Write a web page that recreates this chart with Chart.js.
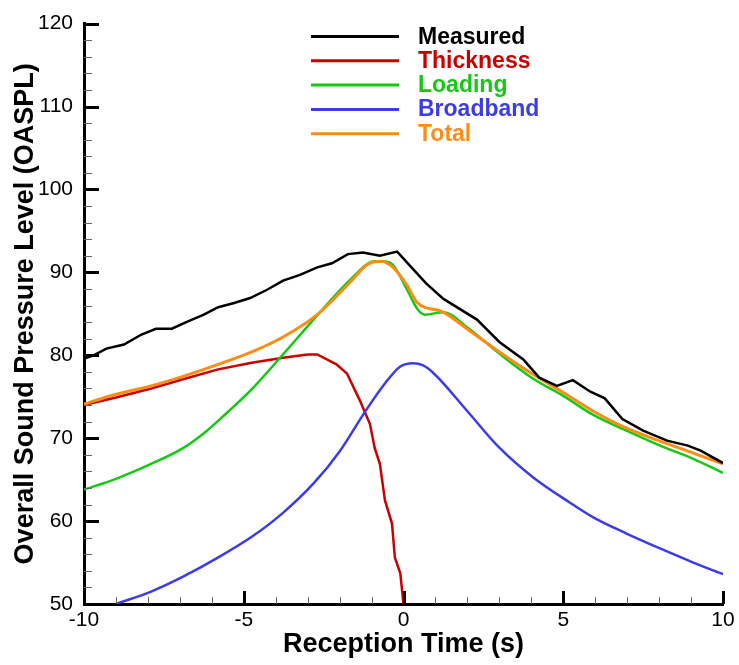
<!DOCTYPE html>
<html>
<head>
<meta charset="utf-8">
<script src="https://cdn.jsdelivr.net/npm/chart.js@4/dist/chart.umd.min.js"></script>
<style>
    html, body { margin: 0; padding: 0; background: #fff; }
    #wrap { width: 739px; height: 665px; }
</style>
</head>
<body>
<div id="wrap"><canvas id="grafico" width="739" height="665"></canvas></div>
<script>
/* ======================================================
   DADOS
   ====================================================== */
const tempoMedido = [-10, -9.7, -9.3, -8.75, -8.2, -7.75, -7.25, -6.8, -6.25, -5.8, -5.3, -4.8, -4.27, -3.77, -3.24, -2.7, -2.24, -1.74, -1.27, -0.74, -0.2, 0.7, 1.25, 2.3, 3.0, 3.75, 4.25, 4.8, 5.3, 5.85, 6.3, 6.85, 7.5, 8.25, 8.9, 9.3, 10];
const splMedido   = [79.6, 80.0, 80.8, 81.3, 82.5, 83.2, 83.2, 84.0, 84.9, 85.8, 86.3, 86.9, 87.9, 89.0, 89.7, 90.6, 91.1, 92.2, 92.4, 92.0, 92.5, 88.7, 86.8, 84.3, 81.6, 79.5, 77.3, 76.3, 77.0, 75.6, 74.8, 72.3, 70.9, 69.7, 69.1, 68.5, 67.0];

const tempoEspessura = [-10, -9, -7.9, -6.9, -5.8, -4.75, -3.77, -3.0, -2.7, -2.1, -1.77, -1.36, -1.05, -0.9, -0.74, -0.58, -0.36, -0.27, -0.1, 0.0];
const splEspessura   = [74.0, 74.9, 76.0, 77.1, 78.3, 79.1, 79.7, 80.1, 80.1, 78.9, 77.8, 74.5, 71.7, 68.8, 66.9, 62.5, 59.7, 55.6, 53.7, 50.0];

const tempoCarga = [-10, -9, -7.9, -6.9, -6.25, -5.6, -5.15, -4.7, -3.77, -2.7, -1.67, -0.9, -0.55, -0.33, 0.1, 0.45, 0.67, 1.24, 1.98, 3.0, 4.05, 5.0, 5.94, 6.98, 8.03, 9.07, 10];
const splCarga   = [63.8, 65.1, 66.9, 68.8, 70.6, 72.8, 74.4, 76.1, 80.1, 84.8, 89.1, 91.35, 91.3, 90.9, 88.0, 85.5, 84.9, 85.2, 83.4, 80.2, 77.2, 75.1, 72.8, 70.9, 69.1, 67.5, 65.8];

const tempoBanda = [-9.0, -7.9, -6.9, -5.85, -4.75, -3.8, -2.8, -2.0, -1.2, -0.6, -0.1, 0.3, 0.6, 0.95, 2.0, 3.0, 4.05, 5.2, 5.94, 6.98, 8.03, 9.07, 10];
const splBanda   = [50.0, 51.5, 53.3, 55.5, 58.1, 60.9, 64.6, 68.4, 73.2, 76.5, 78.65, 79.05, 78.8, 77.8, 73.25, 68.85, 65.3, 62.25, 60.45, 58.5, 56.7, 55.0, 53.6];

const tempoTotal = [-10, -9, -7.9, -6.9, -5.8, -4.75, -3.77, -2.7, -1.67, -1.15, -0.7, -0.33, 0.1, 0.42, 1.24, 1.98, 3.0, 4.05, 5.0, 5.94, 6.98, 8.03, 9.07, 10];
const splTotal   = [74.1, 75.3, 76.3, 77.45, 78.9, 80.4, 82.2, 84.9, 88.8, 90.9, 91.35, 90.6, 88.5, 86.4, 85.2, 83.2, 80.4, 77.7, 75.5, 73.25, 71.2, 69.65, 68.2, 66.9];

const nomesSeries = ["Measured", "Thickness", "Loading", "Broadband", "Total"];
const coresSeries = ["#000000", "#c80000", "#14c814", "#3c3ce6", "#ff8c14"];

const FONTE = "'Liberation Sans', Arial, sans-serif";

function pontos(xs, ys) {
    return xs.map((x, i) => ({ x: x, y: ys[i] }));
}

function serie(i, xs, ys, suave, ordem) {
    return {
        label: nomesSeries[i],
        data: pontos(xs, ys),
        borderColor: coresSeries[i],
        backgroundColor: coresSeries[i],
        borderWidth: i === 4 ? 3 : 2.5,
        pointRadius: 0,
        tension: 0,
        cubicInterpolationMode: suave ? "monotone" : "default",
        order: ordem
    };
}

/* ======================================================
   MARCAS PARA DENTRO + LEGENDA
   ====================================================== */
const marcasInternas = {
    id: "marcasInternas",
    afterDraw(chart) {
        const { ctx, chartArea: a, scales: { x, y } } = chart;
        ctx.save();

        for (let v = 50; v <= 120; v += 2) {
            const py = Math.round(y.getPixelForValue(v)) + 0.5;
            const maior = v % 10 === 0;
            ctx.strokeStyle = maior ? "#000" : "#666";
            ctx.lineWidth = maior ? 3 : 1;
            ctx.beginPath();
            ctx.moveTo(a.left, py);
            ctx.lineTo(a.left + (maior ? 15 : 8), py);
            ctx.stroke();
        }

        for (let v = -10; v <= 10; v += 1) {
            const px = Math.round(x.getPixelForValue(v)) + 0.5;
            const maior = v % 5 === 0;
            ctx.strokeStyle = maior ? "#000" : "#666";
            ctx.lineWidth = maior ? 3 : 1;
            ctx.beginPath();
            ctx.moveTo(px, a.bottom);
            ctx.lineTo(px, a.bottom - (maior ? 13 : 7));
            ctx.stroke();
        }

        // legenda
        ctx.font = "bold 23px " + FONTE;
        ctx.textAlign = "left";
        ctx.textBaseline = "alphabetic";
        chart.data.datasets.forEach((d, i) => {
            const ly = 36.5 + i * 24.3;
            ctx.strokeStyle = d.borderColor;
            ctx.lineWidth = 3;
            ctx.beginPath();
            ctx.moveTo(311, ly);
            ctx.lineTo(399, ly);
            ctx.stroke();
            ctx.fillStyle = d.borderColor;
            ctx.fillText(d.label, 418, ly + 7);
        });

        ctx.restore();
    }
};

/* ======================================================
   GRAFICO
   ====================================================== */
const ctx = document.getElementById("grafico").getContext("2d");

new Chart(ctx, {
    type: "line",
    data: {
        datasets: [
            serie(0, tempoMedido, splMedido, false, 0),
            serie(1, tempoEspessura, splEspessura, false, 4),
            serie(2, tempoCarga, splCarga, true, 3),
            serie(3, tempoBanda, splBanda, true, 2),
            serie(4, tempoTotal, splTotal, true, 1)
        ]
    },
    options: {
        responsive: false,
        animation: false,
        devicePixelRatio: 1,
        layout: { padding: { top: 20, right: 16, left: 0, bottom: 0 } },
        plugins: {
            legend: { display: false },
            tooltip: { enabled: false }
        },
        scales: {
            x: {
                type: "linear",
                min: -10,
                max: 10,
                ticks: {
                    stepSize: 5,
                    color: "#000",
                    padding: 4,
                    font: { family: FONTE, size: 21 }
                },
                grid: { display: false, drawTicks: false },
                border: { display: true, color: "#000", width: 3 },
                title: {
                    display: true,
                    text: "Reception Time (s)",
                    color: "#000",
                    font: { family: FONTE, size: 27, weight: "bold" },
                    padding: { top: 0, bottom: 4 }
                },
                afterFit: s => { s.height = 61; }
            },
            y: {
                type: "linear",
                min: 50,
                max: 120,
                ticks: {
                    stepSize: 10,
                    color: "#000",
                    padding: 11,
                    font: { family: FONTE, size: 21 }
                },
                grid: { display: false, drawTicks: false },
                border: { display: true, color: "#000", width: 3 },
                title: {
                    display: true,
                    text: "Overall Sound Pressure Level (OASPL)",
                    color: "#000",
                    font: { family: FONTE, size: 27, weight: "bold" },
                    padding: { top: 9, bottom: 0 }
                },
                afterFit: s => { s.width = 84; }
            }
        }
    },
    plugins: [marcasInternas]
});
</script>
</body>
</html>
